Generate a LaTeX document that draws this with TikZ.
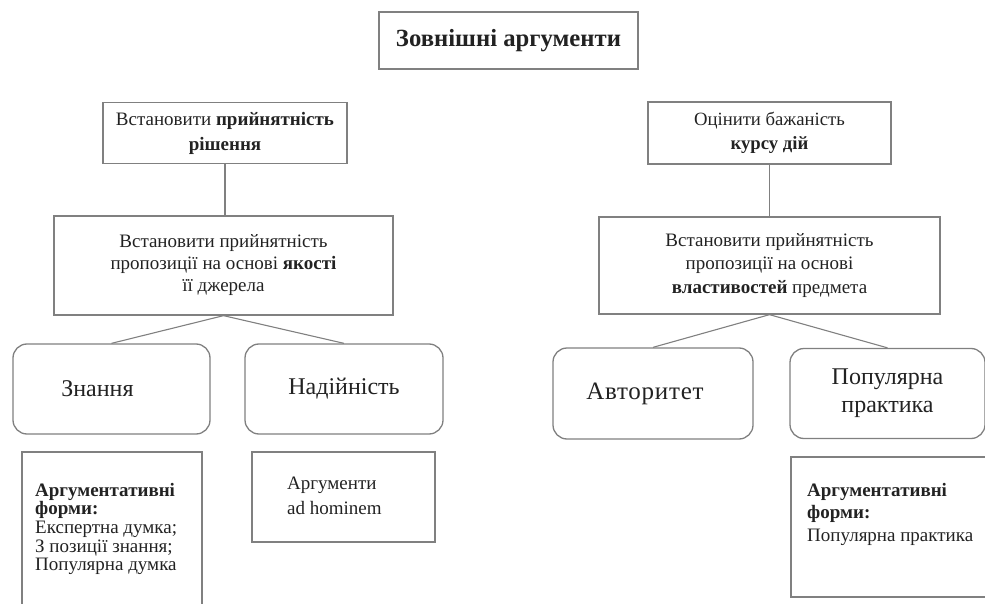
\documentclass[tikz,border=0pt]{standalone}
\usepackage{fontspec}
\setmainfont{Liberation Serif}
\definecolor{linegray}{HTML}{808080}
\definecolor{txt}{HTML}{222222}
\begin{document}
\begin{tikzpicture}[x=1pt,y=-1pt,
  box/.style={draw=linegray, line width=1.3pt, rectangle, inner sep=0pt, align=center, text=txt},
  rbox/.style={box, rounded corners=14pt, font=\fontsize{24}{28}\selectfont},
  plain/.style={inner sep=0pt, align=left, text=txt, anchor=north west},
  conn/.style={draw=linegray, line width=1.1pt}]
\useasboundingbox (0,0) rectangle (985,604);

\node[box, minimum width=259, minimum height=57, font=\fontsize{24.7}{28}\selectfont\bfseries] (title) at (508.5,40.5) {Зовнішні аргументи};

\node[box, minimum width=244, minimum height=61, font=\fontsize{19}{25}\selectfont] (tl) at (225,133) {Встановити \textbf{прийнятність}\\\textbf{рішення}};
\node[box, minimum width=243, minimum height=62, font=\fontsize{18.7}{24}\selectfont] (tr) at (769.5,133) {Оцінити бажаність\\\textbf{курсу дій}};

\node[box, minimum width=339, minimum height=99, font=\fontsize{19}{22}\selectfont] (ml) at (223.5,265.5) {Встановити прийнятність\\пропозиції на основі \textbf{якості}\\її джерела};
\node[box, minimum width=341, minimum height=97, font=\fontsize{19}{23.5}\selectfont] (mr) at (769.5,265.5) {Встановити прийнятність\\пропозиції на основі\\\textbf{властивостей} предмета};

\node[rbox, minimum width=197, minimum height=90] (zn) at (111.5,389) {Знання\hspace*{28pt}};
\node[rbox, minimum width=198, minimum height=90] (nad) at (344,389) {Надійність};
\node[rbox, minimum width=200, minimum height=91] (avt) at (653,393.5) {\fontsize{25}{28}\selectfont\addfontfeatures{LetterSpace=3}Авторитет\hspace*{16pt}};
\node[rbox, minimum width=195, minimum height=90] (pop) at (887.5,393.5) {Популярна\\практика};

\node[box, minimum width=180, minimum height=168] (bl) at (112,536) {};
\node[plain, font=\fontsize{19}{18.6}\selectfont] (blt) at (35,483) {\textbf{Аргументативні}\\\textbf{форми:}\\Експертна думка;\\З позиції знання;\\Популярна думка};

\node[box, minimum width=183, minimum height=90] (ah) at (343.5,497) {};
\node[plain, font=\fontsize{19}{25}\selectfont] (aht) at (287,477) {Аргументи\\ad hominem};

\node[box, minimum width=209, minimum height=140] (br) at (895.5,527) {};
\node[plain, font=\fontsize{19}{22.5}\selectfont] (brt) at (807,483) {\textbf{Аргументативні}\\\textbf{форми:}\\Популярна практика};

\draw[conn] (tl.south) -- (tl.south |- ml.north);
\draw[conn] (tr.south) -- (mr.north);
\draw[conn] (ml.south) -- (zn.north);
\draw[conn] (ml.south) -- (nad.north);
\draw[conn] (mr.south) -- (avt.north);
\draw[conn] (mr.south) -- (pop.north);
\end{tikzpicture}
\end{document}
